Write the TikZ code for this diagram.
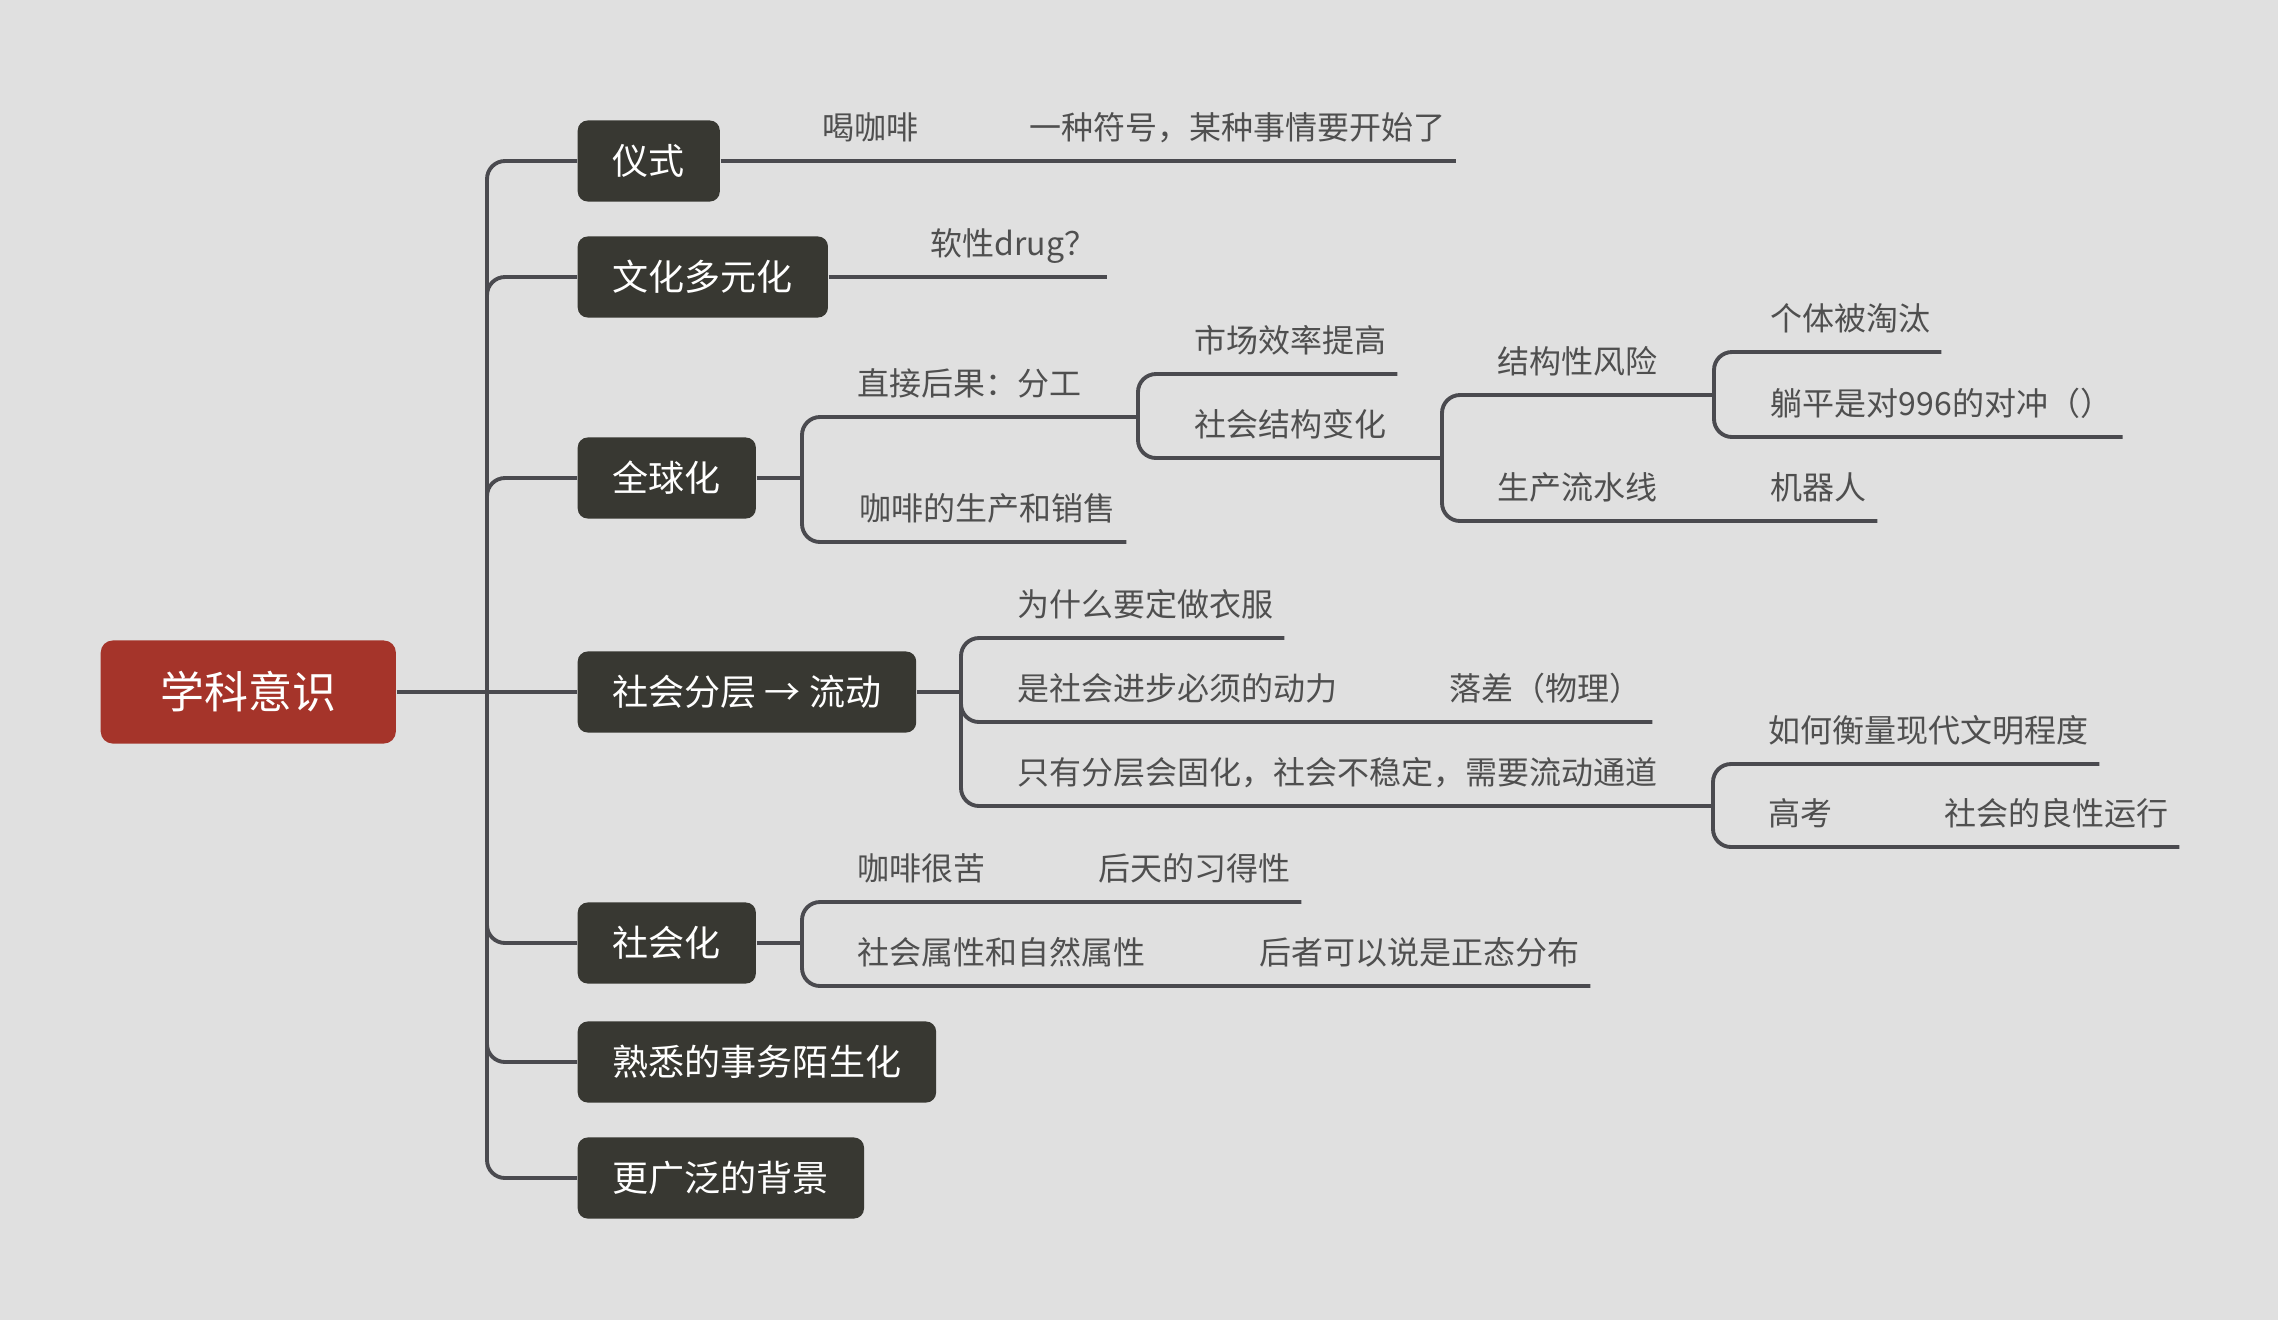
\documentclass[tikz,border=0pt]{standalone}
\usepackage{fontspec}
\setmainfont{Noto Sans CJK SC}
\usepackage{tikz}
\usetikzlibrary{positioning}

\definecolor{bgcol}{HTML}{E0E0E0}
\definecolor{rootred}{HTML}{A5342A}
\definecolor{topicdark}{HTML}{383832}
\definecolor{linegray}{HTML}{4A4A4F}
\definecolor{leaftext}{HTML}{4F4F4F}

\begin{document}
\begin{tikzpicture}[
  x=0.01cm, y=-0.01cm,
  rootbox/.style={rectangle, fill=rootred, text=white, rounded corners=0.12cm,
    font=\fontsize{12.5pt}{15pt}\selectfont, minimum width=2.95cm,
    minimum height=1.03cm, anchor=west},
  topic/.style={rectangle, fill=topicdark, text=white, rounded corners=0.1cm,
    font=\fontsize{10.25pt}{12pt}\selectfont, inner xsep=0.35cm,
    minimum height=0.81cm, anchor=west},
  leaf/.style={text=leaftext, font=\fontsize{9.1pt}{11pt}\selectfont,
    text height=0.26cm, text depth=0.06cm, inner xsep=0.1cm,
    inner ysep=0.15cm, anchor=south west},
  link/.style={draw=linegray, line width=1.1pt, rounded corners=0.18cm}
]
  \fill[bgcol] (0,0) rectangle (2278,1320);
  \useasboundingbox (0,0) rectangle (2278,1320);

  \node[rootbox] (root) at (100,692) {学科意识};

  \node[topic] (yishi)      at (577,161)  {仪式};
  \node[topic] (wenhua)     at (577,277)  {文化多元化};
  \node[topic] (quanqiu)    at (577,478)  {全球化};
  \node[topic] (fenceng)    at (577,692)  {社会分层 → 流动};
  \node[topic] (shehuihua)  at (577,943)  {社会化};
  \node[topic] (moshenghua) at (577,1062) {熟悉的事务陌生化};
  \node[topic] (beijing)    at (577,1178) {更广泛的背景};

  \coordinate (trunk) at (487,692);
  \draw[link] (root.east) -- (fenceng.west);
  \foreach \t in {yishi,wenhua,quanqiu,shehuihua,moshenghua,beijing}
    \draw[link] (trunk) |- (\t.west);

  % 仪式
  \node[leaf] (hekafei) at (812,161)  {喝咖啡};
  \node[leaf] (fuhao)   at (1019,161) {一种符号，某种事情要开始了};
  \draw[link] (yishi.east) -- (hekafei.south west) -- (hekafei.south east)
    -- (fuhao.south west) -- (fuhao.south east);

  % 文化多元化
  \node[leaf] (ruanxing) at (920,277) {软性drug？};
  \draw[link] (wenhua.east) -- (ruanxing.south west) -- (ruanxing.south east);

  % 全球化
  \coordinate (brkQ) at (802,478);
  \coordinate (brkF) at (1138,417);
  \coordinate (brkJ) at (1442,458);
  \coordinate (brkR) at (1714,395);
  \node[leaf] (fengong)   at (847,417)  {直接后果：分工};
  \node[leaf] (chanxiao)  at (849,542)  {咖啡的生产和销售};
  \node[leaf] (xiaolv)    at (1184,374) {市场效率提高};
  \node[leaf] (jiegou)    at (1184,458) {社会结构变化};
  \node[leaf] (fengxian)  at (1487,395) {结构性风险};
  \node[leaf] (liushui)   at (1487,521) {生产流水线};
  \node[leaf] (jiqiren)   at (1760,521) {机器人};
  \node[leaf] (taotai)    at (1760,352) {个体被淘汰};
  \node[leaf] (tangping)  at (1760,437) {躺平是对996的对冲（）};

  \draw[link] (quanqiu.east) -- (brkQ);
  \draw[link] (brkQ) |- (fengong.south west) -- (fengong.south east) -- (brkF);
  \draw[link] (brkQ) |- (chanxiao.south west) -- (chanxiao.south east);
  \draw[link] (brkF) |- (xiaolv.south west) -- (xiaolv.south east);
  \draw[link] (brkF) |- (jiegou.south west) -- (jiegou.south east) -- (brkJ);
  \draw[link] (brkJ) |- (fengxian.south west) -- (fengxian.south east) -- (brkR);
  \draw[link] (brkJ) |- (liushui.south west) -- (liushui.south east)
    -- (jiqiren.south west) -- (jiqiren.south east);
  \draw[link] (brkR) |- (taotai.south west) -- (taotai.south east);
  \draw[link] (brkR) |- (tangping.south west) -- (tangping.south east);

  % 社会分层 -> 流动
  \coordinate (brkS) at (961,692);
  \coordinate (brkT) at (1713,806);
  \node[leaf] (dingzuo)  at (1007,638) {为什么要定做衣服};
  \node[leaf] (dongli)   at (1007,722) {是社会进步必须的动力};
  \node[leaf] (luocha)   at (1439,722) {落差（物理）};
  \node[leaf] (tongdao)  at (1007,806) {只有分层会固化，社会不稳定，需要流动通道};
  \node[leaf] (wenming)  at (1758,764) {如何衡量现代文明程度};
  \node[leaf] (gaokao)   at (1758,847) {高考};
  \node[leaf] (liangxing) at (1934,847) {社会的良性运行};

  \draw[link] (fenceng.east) -- (brkS);
  \draw[link] (brkS) |- (dingzuo.south west) -- (dingzuo.south east);
  \draw[link] (brkS) |- (dongli.south west) -- (dongli.south east)
    -- (luocha.south west) -- (luocha.south east);
  \draw[link] (brkS) |- (tongdao.south west) -- (tongdao.south east) -- (brkT);
  \draw[link] (brkT) |- (wenming.south west) -- (wenming.south east);
  \draw[link] (brkT) |- (gaokao.south west) -- (gaokao.south east)
    -- (liangxing.south west) -- (liangxing.south east);

  % 社会化
  \coordinate (brkH) at (802,943);
  \node[leaf] (kuse)     at (847,902)  {咖啡很苦};
  \node[leaf] (xide)     at (1088,902) {后天的习得性};
  \node[leaf] (shuxing)  at (847,986)  {社会属性和自然属性};
  \node[leaf] (zhengtai) at (1249,986) {后者可以说是正态分布};

  \draw[link] (shehuihua.east) -- (brkH);
  \draw[link] (brkH) |- (kuse.south west) -- (kuse.south east)
    -- (xide.south west) -- (xide.south east);
  \draw[link] (brkH) |- (shuxing.south west) -- (shuxing.south east)
    -- (zhengtai.south west) -- (zhengtai.south east);
\end{tikzpicture}
\end{document}
